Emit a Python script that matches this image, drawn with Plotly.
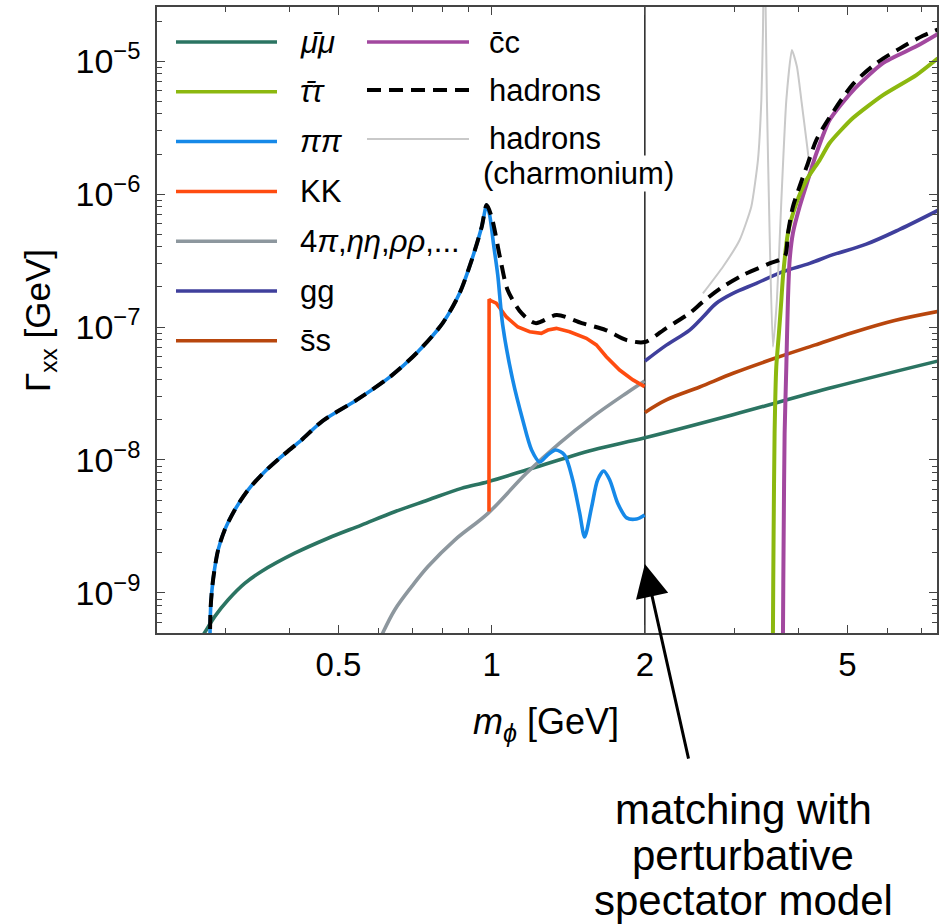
import math
import plotly.graph_objects as go

# ---------------- data ----------------
mumu_m = [0.2657, 0.2730, 0.2856, 0.3033, 0.3271, 0.3528, 0.4102, 0.4770, 0.5546, 0.6448,
          0.7497, 0.8719, 0.9834, 1.170, 1.581, 2.001, 2.979, 4.685, 7.53]
mumu_g = [4.3e-10, 5.04e-10, 6.64e-10, 8.85e-10, 1.18e-9, 1.45e-9, 1.99e-9, 2.58e-9, 3.24e-9, 4.08e-9,
          5.00e-9, 6.12e-9, 6.87e-9, 8.41e-9, 1.19e-8, 1.47e-8, 2.19e-8, 3.52e-8, 5.55e-8]

tautau_m = [3.566, 3.570, 3.581, 3.597, 3.625, 3.668, 3.709, 3.736, 3.821, 3.969, 4.153,
            4.410, 4.614, 5.127, 5.873, 6.831, 7.53]
tautau_g = [1e-10, 5e-10, 2.82e-9, 1.59e-8, 5.04e-8, 8.97e-8, 1.60e-7, 2.39e-7, 5.07e-7, 8.51e-7, 1.27e-6,
            1.80e-6, 2.42e-6, 3.73e-6, 5.55e-6, 7.85e-6, 1.05e-5]

pipi_m = [0.2791, 0.2805, 0.2835, 0.2900, 0.2988, 0.3127, 0.3320, 0.3581, 0.3862, 0.4227,
          0.4656, 0.5430, 0.6303, 0.7122, 0.8012, 0.8652, 0.9178, 0.9558, 0.9777,
          0.991, 1.009, 1.028, 1.051, 1.100, 1.151, 1.198, 1.243, 1.288, 1.336, 1.391,
          1.443, 1.489, 1.523, 1.572, 1.615, 1.660, 1.706, 1.768, 1.842, 1.927, 1.998]
pipi_g = [2.5e-10, 7.89e-10, 1.25e-9, 2.10e-9, 2.98e-9, 4.21e-9, 5.94e-9, 8.17e-9, 1.06e-8, 1.41e-8,
          1.97e-8, 2.83e-8, 4.2e-8, 6.38e-8, 1.07e-7, 1.80e-7, 3.36e-7, 5.65e-7, 8.26e-7,
          6.95e-7, 4.14e-7, 2.46e-7, 1.04e-7, 4.0e-8, 2.0e-8, 1.19e-8, 9.66e-9, 1.09e-8, 1.19e-8, 1.09e-8,
          7.08e-9, 4.0e-9, 2.64e-9, 4.44e-9, 7.08e-9, 8.26e-9, 7.08e-9, 4.75e-9, 3.67e-9, 3.60e-9, 3.86e-9]

kk_m = [0.988, 0.9885, 0.995, 1.021, 1.069, 1.126, 1.188, 1.252, 1.290, 1.340, 1.423,
        1.535, 1.606, 1.680, 1.784, 1.895, 1.998]
kk_g = [4.1e-9, 1.62e-7, 1.58e-7, 1.51e-7, 1.19e-7, 1.00e-7, 9.22e-8, 8.97e-8, 9.49e-8, 9.77e-8, 9.22e-8,
        8.22e-8, 7.33e-8, 5.98e-8, 4.75e-8, 4.00e-8, 3.56e-8]

multi_m = [0.597, 0.6116, 0.6448, 0.6955, 0.7497, 0.8459, 0.9834, 1.170, 1.360, 1.581, 1.839, 1.998]
multi_g = [4.07e-10, 5.04e-10, 7.45e-10, 1.11e-9, 1.58e-9, 2.50e-9, 3.97e-9, 7.94e-9, 1.34e-8,
           2.12e-8, 3.18e-8, 3.93e-8]

gg_m = [2.001, 2.204, 2.449, 2.601, 2.764, 2.979, 3.312, 3.736, 4.216, 4.685, 5.446, 6.333, 7.53]
gg_g = [5.55e-8, 7.31e-8, 9.49e-8, 1.19e-7, 1.51e-7, 1.79e-7, 2.13e-7, 2.61e-7, 3.01e-7, 3.50e-7,
        4.20e-7, 5.42e-7, 7.53e-7]

ss_m = [2.001, 2.204, 2.563, 2.99, 3.625, 4.31, 5.127, 6.19, 7.53]
ss_g = [2.28e-8, 2.83e-8, 3.54e-8, 4.51e-8, 5.87e-8, 7.31e-8, 9.10e-8, 1.12e-7, 1.31e-7]

cc_m = [3.733, 3.736, 3.748, 3.764, 3.793, 3.821, 3.851, 3.908, 4.028, 4.181, 4.345, 4.614,
        5.127, 5.873, 6.831, 7.53]
cc_g = [1e-10, 5e-10, 2.82e-9, 1.59e-8, 5.04e-8, 1.60e-7, 3.19e-7, 5.09e-7, 8.03e-7, 1.27e-6, 2.02e-6,
        3.60e-6, 6.00e-6, 9.64e-6, 1.29e-5, 1.60e-5]

# hadrons: equal to pi pi up to the f0(980) peak, then its own values
had_peak_index = 19
had_m_tail = [1.000, 1.041, 1.075, 1.145, 1.220, 1.342, 1.503, 1.675, 1.842, 1.998, 2.204, 2.449,
              2.601, 2.848, 3.117, 3.517, 3.764, 3.821, 3.908, 4.028, 4.181, 4.345, 4.578, 5.128,
              5.700, 6.333, 7.036, 7.52]
had_g_tail = [6.71e-7, 3.19e-7, 1.90e-7, 1.27e-7, 1.07e-7, 1.23e-7, 1.07e-7, 9.49e-8, 7.98e-8, 7.71e-8,
              9.82e-8, 1.27e-7, 1.55e-7, 2.01e-7, 2.46e-7, 3.01e-7, 3.38e-7, 5.07e-7, 8.03e-7, 1.14e-6,
              1.70e-6, 2.55e-6, 3.60e-6, 6.70e-6, 9.64e-6, 1.24e-5, 1.55e-5, 1.72e-5]
had_m = pipi_m[:had_peak_index] + had_m_tail
had_g = pipi_g[:had_peak_index] + had_g_tail

charm_m = [2.601, 2.848, 3.071, 3.237, 3.336, 3.388, 3.412, 3.432, 3.454, 3.474, 3.517, 3.570,
           3.635, 3.709, 3.793, 3.890, 3.980, 4.060, 4.153, 4.216]
charm_g = [1.79e-7, 2.84e-7, 4.51e-7, 8.03e-7, 1.80e-6, 5.09e-6, 1.61e-5, 8e-5, 2.55e-5, 5.09e-6,
           5.09e-7, 7.11e-8, 1.60e-7, 9.02e-7, 5.09e-6, 1.21e-5, 9.06e-6, 5.09e-6, 2.55e-6, 1.60e-6]

x_tick_vals = [0.5, 1, 2, 5]
x_tick_text = ["0.5", "1", "2", "5"]
y_tick_vals = [1e-9, 1e-8, 1e-7, 1e-6, 1e-5]
y_tick_text = ["10<sup>\u22129</sup>", "10<sup>\u22128</sup>", "10<sup>\u22127</sup>",
               "10<sup>\u22126</sup>", "10<sup>\u22125</sup>"]
matching_mass = 2.0
arrow_tip_width = 1.65e-9

# ---------------- styles ----------------
FONT = "Liberation Sans, Arial, sans-serif"
C_MU = "#2b7462"
C_TAU = "#8cb80f"
C_PI = "#1689e8"
C_K = "#ff4c10"
C_4PI = "#8d979e"
C_GG = "#3f3f9c"
C_SS = "#b8460d"
C_CC = "#a2489f"
C_CHARM = "#c9c9c9"

W, H = 947, 924
ML, MR, MT, MB = 157, 10, 7, 291
PW, PH = W - ML - MR, H - MT - MB


def xp(px):
    return (px - ML) / PW


def yp(py):
    return (H - MB - py) / PH


fig = go.Figure()


def add(m, g, color, width=3.6, dash=None, shape="spline", smoothing=1.0):
    fig.add_trace(go.Scatter(
        x=m, y=g, mode="lines", showlegend=False, hoverinfo="skip",
        line=dict(color=color, width=width, dash=dash, shape=shape,
                  smoothing=smoothing if shape == "spline" else None)))


add(mumu_m, mumu_g, C_MU)
add(multi_m, multi_g, C_4PI)
add(ss_m, ss_g, C_SS)
add(gg_m, gg_g, C_GG)
add(kk_m, kk_g, C_K, shape="linear")
add(pipi_m, pipi_g, C_PI, smoothing=0.8)
add(charm_m, charm_g, C_CHARM, width=2, smoothing=0.5)
add(cc_m, cc_g, C_CC, width=4, smoothing=0.6)
add(tautau_m, tautau_g, C_TAU, width=4, smoothing=0.6)
add(had_m, had_g, "black", width=4, dash="14px,8px", smoothing=0.8)

# ---------------- legend drawn by hand (two columns) ----------------
legend_col1 = [
    ("<i>\u03bc\u0304\u03bc</i>", C_MU, "solid", 3.5),
    ("<i>\u03c4\u0304\u03c4</i>", C_TAU, "solid", 3.5),
    ("<i>\u03c0\u03c0</i>", C_PI, "solid", 3.5),
    ("KK", C_K, "solid", 3.5),
    ("4<i>\u03c0</i>,<i>\u03b7\u03b7</i>,<i>\u03c1\u03c1</i>,...", C_4PI, "solid", 3.5),
    ("gg", C_GG, "solid", 3.5),
    ("s\u0304s", C_SS, "solid", 3.5),
]
legend_col2 = [
    ("c\u0304c", C_CC, "solid", 3.5),
    ("hadrons", "black", "dash", 4),
    ("hadrons", C_CHARM, "solid", 2),
]
shapes = []
annotations = []
LEG_FONT = dict(family=FONT, size=31, color="black")
rows1 = [42 + 49.8 * i for i in range(len(legend_col1))]
rows2 = [42, 90, 139]
for (txt, col, dsh, wd), py in zip(legend_col1, rows1):
    shapes.append(dict(type="line", xref="paper", yref="paper", x0=xp(176), x1=xp(277),
                       y0=yp(py), y1=yp(py), line=dict(color=col, width=wd, dash=dsh)))
    annotations.append(dict(xref="paper", yref="paper", x=xp(298), y=yp(py), text=txt,
                            showarrow=False, xanchor="left", yanchor="middle", font=LEG_FONT))
for (txt, col, dsh, wd), py in zip(legend_col2, rows2):
    shapes.append(dict(type="line", xref="paper", yref="paper", x0=xp(367), x1=xp(469),
                       y0=yp(py), y1=yp(py),
                       line=dict(color=col, width=wd, dash="14px,8px" if dsh == "dash" else dsh)))
    annotations.append(dict(xref="paper", yref="paper", x=xp(487), y=yp(py), text=txt,
                            showarrow=False, xanchor="left", yanchor="middle", font=LEG_FONT))
annotations.append(dict(xref="paper", yref="paper", x=xp(482), y=yp(174), text="(charmonium)",
                        showarrow=False, xanchor="left", yanchor="middle", font=LEG_FONT,
                        bgcolor="white", borderpad=0))

# vertical matching line
shapes.insert(0, dict(type="line", xref="x", yref="paper", x0=matching_mass, x1=matching_mass,
                      y0=0, y1=1, layer="below", line=dict(color="black", width=1.3)))

# arrow and its text
annotations.append(dict(xref="x", yref="y", x=math.log10(matching_mass), y=math.log10(arrow_tip_width),
                        ax=44, ay=196, text="", showarrow=True, arrowhead=2, arrowsize=2.2,
                        arrowwidth=3, arrowcolor="black", standoff=0))
for line_txt, py in zip(["matching with", "perturbative", "spectator model"], [809, 855, 900]):
    annotations.append(dict(xref="paper", yref="paper", x=xp(743), y=yp(py), text=line_txt,
                            showarrow=False, xanchor="center", yanchor="middle",
                            font=dict(family=FONT, size=42, color="black")))
# axis titles
annotations.append(dict(xref="paper", yref="paper", x=xp(546), y=yp(724),
                        text="<i>m</i><sub><i>\u03d5</i></sub> [GeV]", showarrow=False,
                        xanchor="center", yanchor="middle",
                        font=dict(family=FONT, size=36, color="black")))
annotations.append(dict(xref="paper", yref="paper", x=xp(40), y=yp(321),
                        text="\u0393<sub>xx</sub> [GeV]", showarrow=False, textangle=-90,
                        xanchor="center", yanchor="middle",
                        font=dict(family=FONT, size=35, color="black")))

x_minor = [0.3, 0.4, 0.6, 0.7, 0.8, 0.9, 3, 4, 6, 7]
y_minor = [k * 10.0 ** e for e in range(-10, -4) for k in range(2, 10)]

fig.update_layout(
    width=W, height=H, margin=dict(l=ML, r=MR, t=MT, b=MB, autoexpand=False),
    paper_bgcolor="white", plot_bgcolor="white",
    shapes=shapes, annotations=annotations, showlegend=False,
    font=dict(family=FONT, color="black"),
    xaxis=dict(type="log", range=[math.log10(0.22), math.log10(7.5)], automargin=False,
               tickvals=x_tick_vals, ticktext=x_tick_text,
               ticks="inside", ticklen=8, tickwidth=1.2, tickcolor="#444",
               showline=True, linecolor="#444", linewidth=1.5, mirror="allticks",
               showgrid=False, zeroline=False, ticklabelstandoff=2,
               tickfont=dict(size=33, color="black"),
               minor=dict(tickvals=x_minor, ticks="inside", ticklen=5, tickcolor="#444",
                          tickwidth=1, showgrid=False)),
    yaxis=dict(type="log", range=[math.log10(5e-10), math.log10(2.55e-5)], automargin=False,
               tickvals=y_tick_vals, ticktext=y_tick_text,
               ticks="inside", ticklen=8, tickwidth=1.2, tickcolor="#444",
               showline=True, linecolor="#444", linewidth=1.5, mirror="allticks",
               showgrid=False, zeroline=False, ticklabelstandoff=8,
               tickfont=dict(size=34, color="black"),
               minor=dict(tickvals=y_minor, ticks="inside", ticklen=5, tickcolor="#444",
                          tickwidth=1, showgrid=False)),
)

fig.write_html("out.html", config={"displayModeBar": False},
               post_script="document.body.style.margin='0px';document.body.style.padding='0px';")
